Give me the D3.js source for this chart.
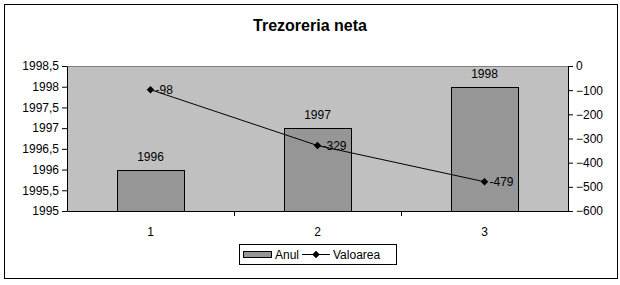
<!DOCTYPE html>
<html>
<head>
<meta charset="utf-8">
<script src="https://cdn.jsdelivr.net/npm/d3@7"></script>
<style>
  body { margin: 0; background: #fff; }
  text { font-family: "Liberation Sans", Arial, sans-serif; }
</style>
</head>
<body>
<div id="chart"></div>
<script>
const categories = ["1", "2", "3"];
const anul = [1996, 1997, 1998];
const valoarea = [-98, -329, -479];
const leftTicks = [1995, 1995.5, 1996, 1996.5, 1997, 1997.5, 1998, 1998.5];
const rightTicks = [0, -100, -200, -300, -400, -500, -600];

const W = 620, H = 285;
const plot = {left: 67, right: 568, top: 66, bottom: 211};

const svg = d3.select("#chart").append("svg")
  .attr("width", W).attr("height", H);

// outer frame
svg.append("rect")
  .attr("x", 4.5).attr("y", 4.5)
  .attr("width", 613).attr("height", 274)
  .attr("fill", "#fff").attr("stroke", "#000");

svg.append("text")
  .attr("x", 310).attr("y", 31)
  .attr("text-anchor", "middle")
  .style("font-size", "16px").style("font-weight", "bold")
  .text("Trezoreria neta");

const x = d3.scaleBand().domain(categories).range([plot.left, plot.right]).paddingInner(0).paddingOuter(0);
const yL = d3.scaleLinear().domain([1995, 1998.5]).range([plot.bottom, plot.top]);
const yR = d3.scaleLinear().domain([-600, 0]).range([plot.bottom, plot.top]);

// plot background
svg.append("rect")
  .attr("x", plot.left).attr("y", plot.top)
  .attr("width", plot.right - plot.left).attr("height", plot.bottom - plot.top)
  .attr("fill", "#c0c0c0");
svg.append("line")
  .attr("x1", plot.left).attr("x2", plot.right)
  .attr("y1", plot.top + 0.5).attr("y2", plot.top + 0.5)
  .attr("stroke", "#808080");

const barW = x.bandwidth() * 0.4;

svg.append("g").selectAll("rect")
  .data(anul)
  .enter().append("rect")
  .attr("x", (d, i) => Math.round(x(categories[i]) + x.bandwidth() / 2 - barW / 2) + 0.5)
  .attr("y", d => Math.round(yL(d)) + 0.5)
  .attr("width", Math.round(barW))
  .attr("height", d => plot.bottom - Math.round(yL(d)))
  .attr("fill", "#969696").attr("stroke", "#000");

svg.append("g").selectAll("text")
  .data(anul)
  .enter().append("text")
  .attr("x", (d, i) => x(categories[i]) + x.bandwidth() / 2)
  .attr("y", d => yL(d) - 9)
  .attr("text-anchor", "middle")
  .style("font-size", "12px")
  .text(d => d);

// axes
const axL = svg.append("g")
  .attr("transform", `translate(${plot.left},0)`)
  .call(d3.axisLeft(yL).tickValues(leftTicks).tickSize(5).tickSizeOuter(0)
    .tickFormat(d => String(d).replace(".", ",")));
const axR = svg.append("g")
  .attr("transform", `translate(${plot.right},0)`)
  .call(d3.axisRight(yR).tickValues(rightTicks).tickSize(5).tickSizeOuter(0));
const axB = svg.append("g")
  .attr("transform", `translate(0,${plot.bottom})`)
  .call(d3.axisBottom(x).tickSize(0).tickSizeOuter(0));
// category boundary ticks
svg.append("g").selectAll("line")
  .data(categories.slice(1))
  .enter().append("line")
  .attr("x1", d => Math.round(x(d)) + 0.5).attr("x2", d => Math.round(x(d)) + 0.5)
  .attr("y1", plot.bottom).attr("y2", plot.bottom + 5)
  .attr("stroke", "#000");

[axL, axR, axB].forEach(a => {
  a.selectAll("path, line").attr("stroke", "#000");
  a.selectAll("text").style("font-size", "12px").attr("fill", "#000");
});
axB.selectAll("text").attr("dy", "1.8em");
axL.selectAll("text").attr("x", -8);
axR.selectAll("text").attr("x", 8);

// line series
const cx = (d, i) => x(categories[i]) + x.bandwidth() / 2;
const line = d3.line().x(cx).y(d => yR(d));
svg.append("path")
  .datum(valoarea)
  .attr("d", line)
  .attr("fill", "none").attr("stroke", "#000").attr("stroke-width", 1);

const diamond = d3.symbol().type(d3.symbolDiamond2).size(36);
svg.append("g").selectAll("path")
  .data(valoarea)
  .enter().append("path")
  .attr("d", diamond)
  .attr("transform", (d, i) => `translate(${cx(d, i)},${yR(d)})`)
  .attr("fill", "#000");

svg.append("g").selectAll("text")
  .data(valoarea)
  .enter().append("text")
  .attr("x", (d, i) => cx(d, i) + 5)
  .attr("y", d => yR(d) + 4)
  .style("font-size", "12px")
  .text(d => d);

// legend
const lg = svg.append("g");
lg.append("rect")
  .attr("x", 239.5).attr("y", 244.5).attr("width", 157).attr("height", 20)
  .attr("fill", "#fff").attr("stroke", "#000");
lg.append("rect")
  .attr("x", 243.5).attr("y", 251.5).attr("width", 28).attr("height", 6)
  .attr("fill", "#969696").attr("stroke", "#000");
lg.append("text").attr("x", 275).attr("y", 259).style("font-size", "12px").text("Anul");
lg.append("line")
  .attr("x1", 302).attr("x2", 330).attr("y1", 254.5).attr("y2", 254.5)
  .attr("stroke", "#000");
lg.append("path").attr("d", diamond).attr("transform", "translate(316,254.5)").attr("fill", "#000");
lg.append("text").attr("x", 333).attr("y", 259).style("font-size", "12px").text("Valoarea");
</script>
</body>
</html>
